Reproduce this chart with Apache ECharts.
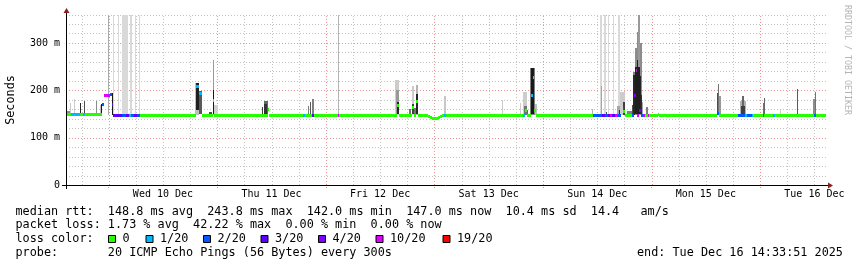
<!DOCTYPE html>
<html><head><meta charset="utf-8">
<script src="https://cdn.jsdelivr.net/npm/echarts@6/dist/echarts.min.js"></script>
<style>html,body{margin:0;padding:0;background:#fff}#c{width:857px;height:267px}</style>
</head><body><div id="c"></div>
<script>
// ---------- DATA (x values are hours since Tue 9 Dec 2025 00:00) ----------
const startHour = 14.5642;   // Tue Dec 9 14:33:51
const endHour = 182.5642;    // Tue Dec 16 14:33:51
const dayLabels = ['Wed 10 Dec','Thu 11 Dec','Fri 12 Dec','Sat 13 Dec','Sun 14 Dec','Mon 15 Dec','Tue 16 Dec'];
const dayLabelHours = [36, 60, 84, 108, 132, 156, 180];
const yTickValues = [0, 100, 200, 300];
const yTickLabels = ['0', '100 m', '200 m', '300 m'];

// median rtt (ms): segment i runs from medianTimes[i] to medianTimes[i+1]
const medianTimes = [14.56,15.60,17.66,18.39,18.83,22.46,22.96,24.29,24.84,25.06,26.94,27.83,28.38,28.93,29.60,30.26,30.92,
  43.30,44.07,44.63,47.06,47.39,59.11,59.33,67.02,67.46,68.94,69.28,74.58,75.02,87.84,88.18,91.05,91.38,92.04,92.38,
  94.59,95.03,95.47,96.80,97.24,97.68,98.12,98.56,115.48,115.92,116.36,117.35,117.69,118.02,118.35,131.06,133.00,133.71,
  134.31,134.82,135.33,135.92,136.52,137.25,137.58,137.80,138.13,139.61,140.19,140.57,140.72,141.29,141.67,142.18,142.55,
  143.15,143.44,145.32,145.65,158.54,159.02,163.18,164.65,165.10,166.13,166.49,168.57,168.85,170.91,171.28,179.98,180.28,182.56];
const medianValues = [150,150,150,150,150,171,191,193,171,147,147,147,147,147,147,147,147,
  209,194,147,180,147,160,147,147,147,147,147,147,147,168,147,164,147,177,147,
  145,143,141.5,143,145,147,147,147,147,158,147,190,229,158,147,147,147,147,
  147,147,147,147,147,null,163,156,147,147,190,243,147,158,147,147,147,
  147,147,149,147,152,147,147,147,147,147,147,147,147,147,147,147,147];
// packet loss (pings lost out of 20) for each median segment
const medianLoss = [0,1,0,1,0,2,10,2,3,3,2,3,1,2,3,2,0,
  1,1,0,0,0,0,0,1,0,3,0,10,0,0,0,0,0,0,0,
  0,0,0,0,0,0,1,0,1,0,0,1,0,0,0,2,3,2,
  3,10,3,10,2,0,2,0,0,2,4,10,10,4,2,10,0,
  10,0,0,0,2,0,2,1,2,1,0,2,0,1,0,2,0];

// smoke (spread of the 20 pings): time span, low/high rtt (ms), ping density 0..1
const smokeStart = [14.79,15.45,16.38,17.70,18.45,21.20,22.08,22.41,23.74,24.67,25.02,25.95,26.94,28.82,29.71,30.64,
  43.19,43.23,44.07,46.17,46.99,46.99,47.39,57.89,58.33,58.44,68.13,68.61,69.01,74.69,
  87.40,87.51,87.73,90.39,90.94,91.00,91.49,91.93,92.04,98.12,110.90,114.88,115.48,115.70,116.36,117.24,117.46,118.13,
  130.84,132.61,132.78,133.56,133.87,134.31,135.41,136.52,136.36,136.80,137.03,137.63,138.51,139.61,139.97,139.97,
  140.34,140.34,140.72,140.72,141.07,141.07,141.45,141.45,141.67,141.82,142.77,
  158.54,158.76,158.97,163.55,164.10,163.77,168.57,168.79,172.33,176.09,179.76,180.20];
const smokeEnd = [15.45,15.63,16.55,17.92,18.68,21.42,22.52,22.63,24.07,24.89,25.24,26.21,28.34,29.09,29.97,30.92,
  44.07,44.03,44.63,46.73,47.39,47.39,48.23,58.22,59.11,59.00,68.39,68.83,69.28,74.91,
  88.28,88.28,88.18,90.83,91.49,91.45,91.93,92.48,92.42,98.56,111.16,115.10,116.36,116.36,116.58,118.24,118.02,118.75,
  131.02,132.94,133.07,133.87,134.09,134.60,135.70,136.96,137.03,137.03,138.13,138.13,139.61,139.97,140.34,140.34,
  140.72,140.72,141.07,141.07,141.45,141.45,141.82,141.67,141.82,142.18,143.28,
  158.83,158.97,159.28,164.87,164.54,164.65,168.79,169.07,172.55,176.31,180.20,180.46];
const smokeLow = [146,150,150,150,150,150,150,150,147,148,147,147,147,147,147,147,
  147,158,150,147,147,150,147,147,147,150,147,147,147,147,
  147,150,150,147,147,150,147,147,150,147,147,147,147,147,147,147,150,147,
  147,147,147,147,147,147,147,147,147,147,147,147,147,147,147,147,
  147,150,147,150,147,150,147,150,150,147,147,
  147,147,147,147,150,148,147,147,147,147,147,147];
const smokeHigh = [157,174,181,174,178,178,169,171,360,194,360,360,360,360,360,360,
  215,215,199,155,264,200,169,164,178,172,166,176,182,360,
  222,200,175,160,209,170,162,212,192,188,180,174,197,167,158,248,246,171,
  160,360,209,360,154,360,360,360,167,158,196,176,156,169,239,232,
  290,250,324,264,359,250,300,230,190,176,165,
  195,213,187,177,188,167,174,184,160,203,181,197];
const smokeDensity = [0.45,0.2,0.2,0.85,0.7,0.45,0.25,0.9,0.33,0.9,0.15,0.15,0.15,0.15,0.15,0.15,
  0.25,0.88,0.65,0.7,0.4,0.9,0.18,0.75,0.6,0.8,0.5,0.65,0.5,0.3,
  0.2,0.4,0.85,0.55,0.2,0.75,0.55,0.3,0.85,0.22,0.2,0.2,0.2,0.55,0.6,0.5,0.9,0.25,
  0.3,0.15,0.35,0.15,0.7,0.15,0.15,0.15,0.35,0.8,0.2,0.75,0.5,0.7,0.5,0.85,
  0.45,0.88,0.45,0.88,0.4,0.88,0.45,0.85,0.8,0.35,0.5,
  0.7,0.55,0.4,0.3,0.6,0.75,0.55,0.6,0.2,0.65,0.45,0.55];

const lossLevels = [0, 1, 2, 3, 4, 10, 19];
const lossLabels = ['0', '1/20', '2/20', '3/20', '4/20', '10/20', '19/20'];
const lossColors = ['#26ff00', '#00b8ff', '#0059ff', '#5e00ff', '#7e00ff', '#dd00ff', '#ff0000'];

const statsLine1 = 'median rtt:  148.8 ms avg  243.8 ms max  142.0 ms min  147.0 ms now  10.4 ms sd  14.4   am/s';
const statsLine2 = 'packet loss: 1.73 % avg  42.22 % max  0.00 % min  0.00 % now';
const statsLine3 = 'loss color:';
const statsLine4 = 'probe:       20 ICMP Echo Pings (56 Bytes) every 300s';
const endText = 'end: Tue Dec 16 14:33:51 2025';
const yAxisTitle = 'Seconds';
const watermark = 'RRDTOOL / TOBI OETIKER';

// ---------- LAYOUT ----------
const G = {left: 66, top: 14.5, right: 31, bottom: 82};
const W = 857, H = 267;
const x0 = G.left, yb = H - G.bottom, xr = W - G.right, yt = G.top;
const MONO = '"DejaVu Sans Mono", monospace';
const legendFont = '11.8px ' + MONO;
const yMax = 360;

function lossColor(l) { const i = lossLevels.indexOf(l); return i >= 0 ? lossColors[i] : '#26ff00'; }
function grayOf(d) { const g = Math.round(255 * (1 - d)); return 'rgb(' + g + ',' + g + ',' + g + ')'; }

const medianData = [];
for (let i = 0; i < medianValues.length; i++) {
  if (medianValues[i] === null) continue;
  medianData.push([medianTimes[i], medianTimes[i + 1], medianValues[i], medianLoss[i]]);
}
const smokeData = smokeStart.map((s, i) => [s, smokeEnd[i], smokeLow[i], smokeHigh[i], smokeDensity[i]]);

// grid lines from axis structure: every 6 h vertically (24 h major), every 20 ms horizontally (100 ms major)
const gridData = [];
for (let h = Math.ceil(startHour / 6) * 6; h < endHour; h += 6) gridData.push([h, 0, h, yMax, h % 24 === 0 ? 1 : 0]);
for (let v = 20; v <= yMax; v += 20) gridData.push([startHour, v, endHour, v, v % 100 === 0 ? 1 : 0]);

const chart = echarts.init(document.getElementById('c'), null, {renderer: 'canvas', width: W, height: H});

const graphics = [];
// axes lines with arrows
graphics.push({type: 'line', shape: {x1: x0 - 4, y1: yb + 0.5, x2: xr + 3, y2: yb + 0.5}, style: {stroke: '#000', lineWidth: 1}, z: 50});
graphics.push({type: 'line', shape: {x1: x0 + 0.5, y1: yb + 4, x2: x0 + 0.5, y2: yt - 2}, style: {stroke: '#000', lineWidth: 1}, z: 50});
graphics.push({type: 'polygon', shape: {points: [[x0 + 0.5, yt - 6.5], [x0 - 2.5, yt - 1.5], [x0 + 3.5, yt - 1.5]]}, style: {fill: '#8a2020'}, z: 51});
graphics.push({type: 'polygon', shape: {points: [[xr + 7, yb + 0.5], [xr + 2, yb - 2.5], [xr + 2, yb + 3.5]]}, style: {fill: '#8a2020'}, z: 51});
// y-axis title and watermark
graphics.push({type: 'text', x: 10.5, y: 100, rotation: Math.PI / 2, style: {text: yAxisTitle, font: legendFont, fill: '#000', align: 'center', verticalAlign: 'middle'}});
graphics.push({type: 'text', x: 847.5, y: 60, rotation: -Math.PI / 2, style: {text: watermark, font: '8.3px ' + MONO, fill: '#b4b4b4', align: 'center', verticalAlign: 'middle'}});
// legend lines
const lineY = [211.5, 225.2, 239, 252.6];
[statsLine1, statsLine2, statsLine3, statsLine4].forEach((t, i) => {
  graphics.push({type: 'text', x: 15.5, y: lineY[i], style: {text: t, font: legendFont, fill: '#000', align: 'left', verticalAlign: 'middle'}});
});
graphics.push({type: 'text', x: 637, y: lineY[3], style: {text: endText, font: legendFont, fill: '#000', align: 'left', verticalAlign: 'middle'}});
const boxX = [108, 145.5, 203, 260.5, 318, 375.5, 442.5];
lossLabels.forEach((lab, i) => {
  graphics.push({type: 'rect', shape: {x: boxX[i] + 0.5, y: lineY[2] - 3.5, width: 7, height: 7}, style: {fill: lossColors[i], stroke: '#000', lineWidth: 1}});
  graphics.push({type: 'text', x: boxX[i] + 14.5, y: lineY[2], style: {text: lab, font: legendFont, fill: '#000', align: 'left', verticalAlign: 'middle'}});
});

chart.setOption({
  animation: false,
  backgroundColor: '#fff',
  grid: {left: G.left, top: G.top, right: G.right, bottom: G.bottom, containLabel: false},
  xAxis: {
    type: 'value', min: startHour, max: endHour,
    axisLine: {show: false}, splitLine: {show: false},
    axisTick: {show: true, customValues: dayLabelHours.map(h => h - 12), length: 3, lineStyle: {color: '#e08a8a', type: [1, 1]}},
    axisLabel: {
      customValues: dayLabelHours,
      formatter: v => { const i = dayLabelHours.findIndex(h => Math.abs(h - v) < 1e-6); return i >= 0 ? dayLabels[i] : ''; },
      fontFamily: MONO, fontSize: 10, color: '#000', margin: 4.5
    }
  },
  yAxis: {
    type: 'value', min: 0, max: yMax,
    axisLine: {show: false}, splitLine: {show: false}, axisTick: {show: false},
    axisLabel: {
      customValues: yTickValues,
      formatter: v => { const i = yTickValues.indexOf(v); return i >= 0 ? yTickLabels[i] : ''; },
      fontFamily: MONO, fontSize: 10, color: '#000', margin: 6
    }
  },
  series: [
    {
      type: 'custom', name: 'grid', silent: true, z: 1, clip: true, data: gridData,
      renderItem: (params, api) => {
        const a = api.coord([api.value(0), api.value(1)]);
        const b = api.coord([api.value(2), api.value(3)]);
        const major = api.value(4) === 1;
        let x1 = a[0], y1 = a[1], x2 = b[0], y2 = b[1];
        if (api.value(0) === api.value(2)) { x1 = x2 = Math.round(x1) + 0.5; } else { y1 = y2 = Math.round(y1) + 0.5; }
        return {type: 'line', shape: {x1, y1, x2, y2}, style: {stroke: major ? '#e89494' : '#c4c4c4', lineWidth: 1, lineDash: [1, 2]}};
      }
    },
    {
      type: 'custom', name: 'smoke', silent: true, z: 2, clip: true, data: smokeData,
      renderItem: (params, api) => {
        const a = api.coord([api.value(0), api.value(3)]);
        const b = api.coord([api.value(1), api.value(2)]);
        const x = Math.round(a[0]), w = Math.max(1, Math.round(b[0]) - x);
        const y = Math.round(a[1]), h = Math.max(1, Math.round(b[1]) - y);
        return {type: 'rect', shape: {x, y, width: w, height: h}, style: {fill: grayOf(api.value(4))}};
      }
    },
    {
      type: 'custom', name: 'median', silent: true, z: 3, clip: true, data: medianData,
      renderItem: (params, api) => {
        const v = api.value(2);
        const a = api.coord([api.value(0), v]);
        const b = api.coord([api.value(1), v]);
        const x = Math.round(a[0]), w = Math.max(1, Math.round(b[0]) - x);
        return {type: 'rect', shape: {x, y: Math.round(a[1]) - 1, width: w, height: 3}, style: {fill: lossColor(api.value(3))}};
      }
    }
  ],
  graphic: graphics
});
</script>
</body></html>
